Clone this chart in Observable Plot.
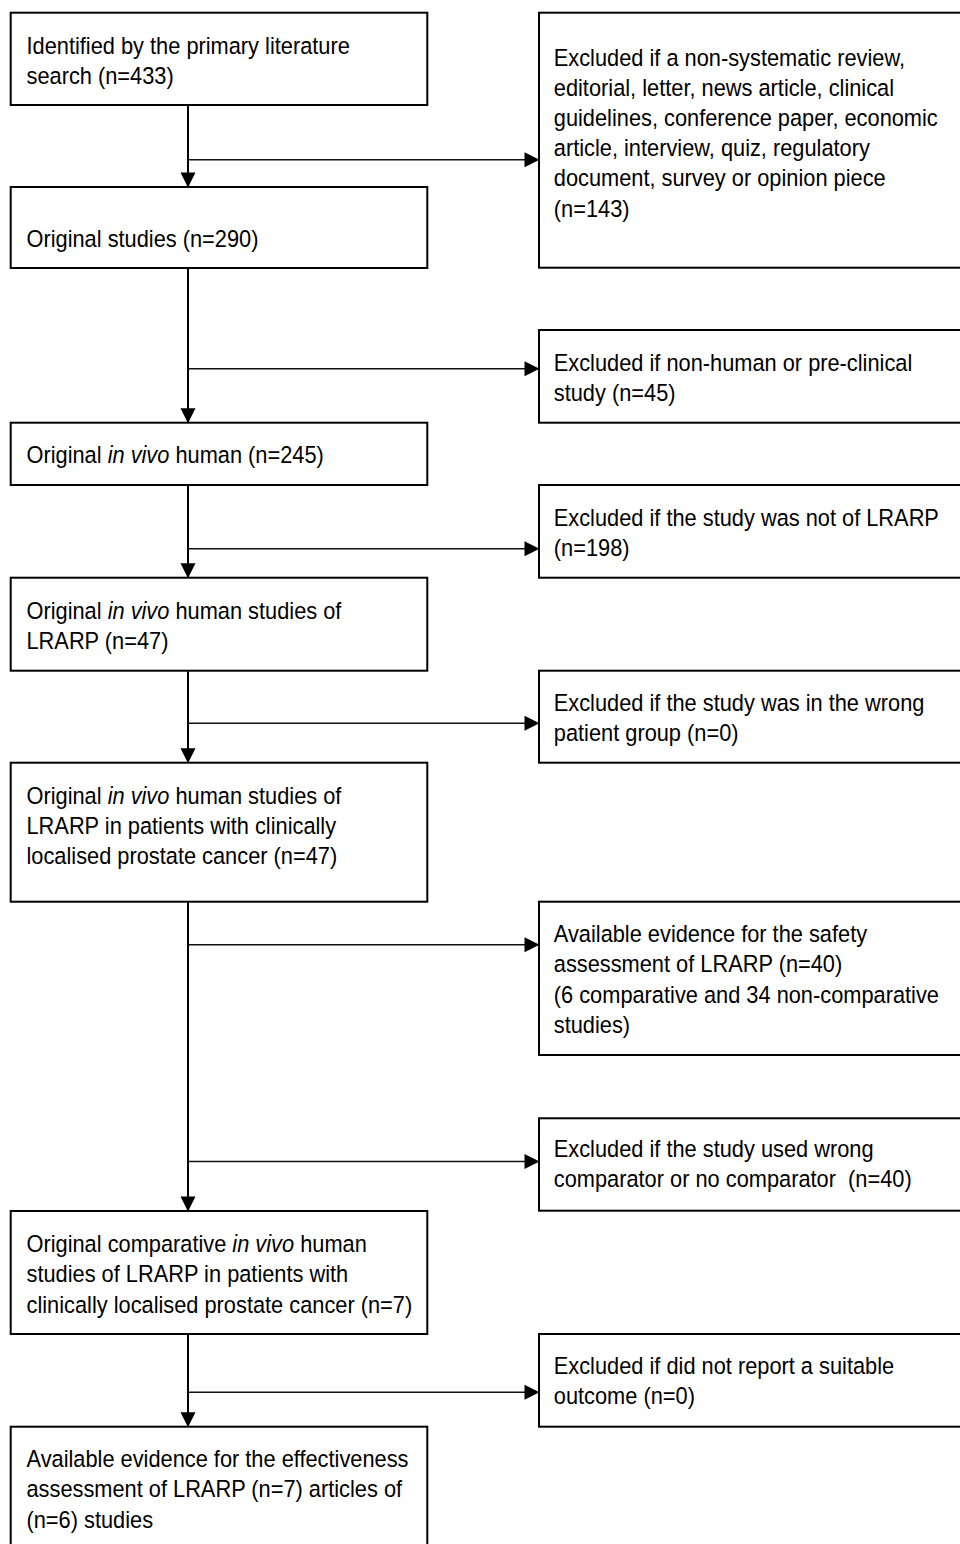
<!DOCTYPE html>
<html>
<head>
<meta charset="utf-8">
<script src="https://cdn.jsdelivr.net/npm/d3@7"></script>
<script src="https://cdn.jsdelivr.net/npm/@observablehq/plot@0.6"></script>
<style>
  body { margin: 0; background: #fff; }
  #chart svg { display: block; }
  #chart svg text { white-space: pre; }
</style>
</head>
<body>
<div id="chart"></div>
<script>
// ---- Content ----
const leftLabels = [
  ["Identified by the primary literature", "search (n=433)"],
  ["Original studies (n=290)"],
  ["Original in vivo human (n=245)"],
  ["Original in vivo human studies of", "LRARP (n=47)"],
  ["Original in vivo human studies of", "LRARP in patients with clinically", "localised prostate cancer (n=47)"],
  ["Original comparative in vivo human", "studies of LRARP in patients with", "clinically localised prostate cancer (n=7)"],
  ["Available evidence for the effectiveness", "assessment of LRARP (n=7) articles of", "(n=6) studies"]
];
const rightLabels = [
  ["Excluded if a non-systematic review,", "editorial, letter, news article, clinical", "guidelines, conference paper, economic", "article, interview, quiz, regulatory", "document, survey or opinion piece", "(n=143)"],
  ["Excluded if non-human or pre-clinical", "study (n=45)"],
  ["Excluded if the study was not of LRARP", "(n=198)"],
  ["Excluded if the study was in the wrong", "patient group (n=0)"],
  ["Available evidence for the safety", "assessment of LRARP (n=40)", "(6 comparative and 34 non-comparative", "studies)"],
  ["Excluded if the study used wrong", "comparator or no comparator  (n=40)"],
  ["Excluded if did not report a suitable", "outcome (n=0)"]
];

// ---- Layout (separate from content) ----
const leftTop      = [12.7, 187, 422.7, 577.7, 762.7, 1211, 1426.7];
const leftBottom   = [105, 268, 485, 670.7, 901.7, 1334, 1560];
const leftBaseline = [53.3, 246, 462.7, 618.3, 803.3, 1251.7, 1466.7];
const rightTop      = [12.7, 330, 485, 670.7, 901.7, 1118.3, 1334];
const rightBottom   = [267.7, 422.7, 577.7, 762.7, 1055, 1210.7, 1426.7];
const rightBaseline = [65, 370.7, 525.5, 710, 941.7, 1156.7, 1373.3];
const branchY = [159.3, 368.3, 548.3, 722.8, 944.3, 1161, 1391.7];
const stemX = 187.5;
const leftX1 = 10.7, leftX2 = 427.3, rightX1 = 539, rightX2 = 985;
const textLeftX = 26, textRightX = 553.3, lineStep = 30.2;
const textStretch = 1.07;

// ---- Derived tables ----
const boxes = [
  ...leftTop.map((t, i) => ({x1: leftX1, x2: leftX2, y1: t, y2: leftBottom[i]})),
  ...rightTop.map((t, i) => ({x1: rightX1, x2: rightX2, y1: t, y2: rightBottom[i]}))
];
const textLines = [
  ...leftLabels.flatMap((lines, i) => lines.map((s, j) => ({x: textLeftX, y: leftBaseline[i] + j * lineStep, s}))),
  ...rightLabels.flatMap((lines, i) => lines.map((s, j) => ({x: textRightX, y: rightBaseline[i] + j * lineStep, s})))
];
const stems = leftTop.slice(1).map((t, i) => ({x1: stemX, y1: leftBottom[i], x2: stemX, y2: t}));
const branches = branchY.map(y => ({x1: stemX, y1: y, x2: rightX1 - 4, y2: y}));
const downHeads = leftTop.slice(1).map(t => ({x: stemX, y: t}));
const rightHeads = branchY.map(y => ({x: rightX1, y}));

const arrowDown = {draw(ctx) { ctx.moveTo(0, 0); ctx.lineTo(-7.5, -15); ctx.lineTo(7.5, -15); ctx.closePath(); }};
const arrowRight = {draw(ctx) { ctx.moveTo(0, 0); ctx.lineTo(-15, -7.5); ctx.lineTo(-15, 7.5); ctx.closePath(); }};

const chart = Plot.plot({
  width: 960,
  height: 1544,
  margin: 0,
  x: {type: "linear", domain: [0, 960], range: [0, 960], axis: null},
  y: {type: "linear", domain: [0, 1544], range: [0, 1544], axis: null},
  style: {background: "white", fontFamily: "'Liberation Sans', Arial, sans-serif"},
  marks: [
    Plot.link(stems, {x1: "x1", y1: "y1", x2: "x2", y2: "y2", stroke: "black", strokeWidth: 2}),
    Plot.link(branches, {x1: "x1", y1: "y1", x2: "x2", y2: "y2", stroke: "#111", strokeWidth: 1.6}),
    Plot.rect(boxes, {x1: "x1", x2: "x2", y1: "y1", y2: "y2", fill: "white", stroke: "black", strokeWidth: 2}),
    Plot.dot(downHeads, {x: "x", y: "y", symbol: arrowDown, fill: "black", stroke: "none"}),
    Plot.dot(rightHeads, {x: "x", y: "y", symbol: arrowRight, fill: "black", stroke: "none"}),
    Plot.text(textLines, {
      x: "x", y: "y", text: "s",
      textAnchor: "start", lineAnchor: "bottom",
      fontSize: 21.8, fill: "black",
      fontFamily: "'Liberation Sans', Arial, sans-serif"
    })
  ]
});

// Italicise "in vivo"
const walker = document.createTreeWalker(chart, NodeFilter.SHOW_TEXT);
const nodes = [];
while (walker.nextNode()) nodes.push(walker.currentNode);
for (const n of nodes) {
  const s = n.nodeValue;
  const i = s.indexOf("in vivo");
  if (i < 0) continue;
  const parent = n.parentNode;
  const it = document.createElementNS("http://www.w3.org/2000/svg", "tspan");
  it.setAttribute("font-style", "italic");
  it.textContent = "in vivo";
  parent.insertBefore(document.createTextNode(s.slice(0, i)), n);
  parent.insertBefore(it, n);
  parent.insertBefore(document.createTextNode(s.slice(i + 7)), n);
  parent.removeChild(n);
}

// Slight vertical stretch of the glyphs around their baselines (reference type is a little taller)
chart.querySelectorAll("text").forEach(t => {
  const tr = t.getAttribute("transform");
  if (tr && /translate/.test(tr) && !t.hasAttribute("y")) {
    t.setAttribute("transform", tr + ` scale(1,${textStretch})`);
  } else if (t.hasAttribute("y")) {
    const y = +t.getAttribute("y");
    t.setAttribute("transform", (tr ? tr + " " : "") + `translate(0,${y}) scale(1,${textStretch}) translate(0,${-y})`);
  }
});

document.getElementById("chart").appendChild(chart);
</script>
</body>
</html>
